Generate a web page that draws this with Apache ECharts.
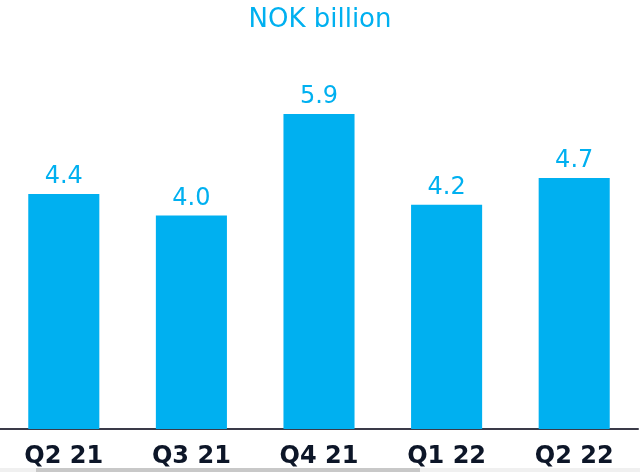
<!DOCTYPE html>
<html>
<head>
<meta charset="utf-8">
<script src="https://cdn.jsdelivr.net/npm/echarts@6/dist/echarts.min.js"></script>
<style>html,body{margin:0;padding:0;background:#fff}#c{width:640px;height:472px}</style>
</head>
<body>
<div id="c"></div>
<script>
const categories = ['Q2 21', 'Q3 21', 'Q4 21', 'Q1 22', 'Q2 22'];
const values = [4.4, 4.0, 5.9, 4.2, 4.7];
const titleText = 'NOK billion';

const chart = echarts.init(document.getElementById('c'));
chart.setOption({
  animation: false,
  title: {
    text: titleText,
    left: 'center',
    top: 2,
    textStyle: { color: '#00B0F0', fontSize: 26, fontWeight: 'normal', fontFamily: 'DejaVu Sans' }
  },
  grid: { left: 0, width: 638, top: 55.2, height: 373.8, containLabel: false },
  xAxis: {
    type: 'category',
    data: categories,
    axisLine: { show: true, lineStyle: { color: '#3a3a48', width: 2 } },
    axisTick: { show: false },
    axisLabel: { color: '#0d1628', fontSize: 24, fontWeight: 'bold', fontFamily: 'DejaVu Sans', margin: 16 }
  },
  yAxis: {
    type: 'value', min: 0, max: 7, show: false, splitLine: { show: false }
  },
  series: [{
    type: 'bar',
    data: values,
    barWidth: '55.7%',
    itemStyle: { color: '#00B0F0' },
    label: {
      show: true, position: 'top', distance: 5,
      color: '#00B0F0', fontSize: 24, fontFamily: 'DejaVu Sans',
      formatter: p => p.value.toFixed(1)
    }
  }],
  graphic: [
    { type: 'rect', shape: { x: 0, y: 468, width: 640, height: 4 }, style: { fill: '#f0f0f0' }, silent: true },
    { type: 'rect', shape: { x: 36, y: 468, width: 384, height: 4 }, style: { fill: '#c8c8c8' }, silent: true }
  ]
});
</script>
</body>
</html>
